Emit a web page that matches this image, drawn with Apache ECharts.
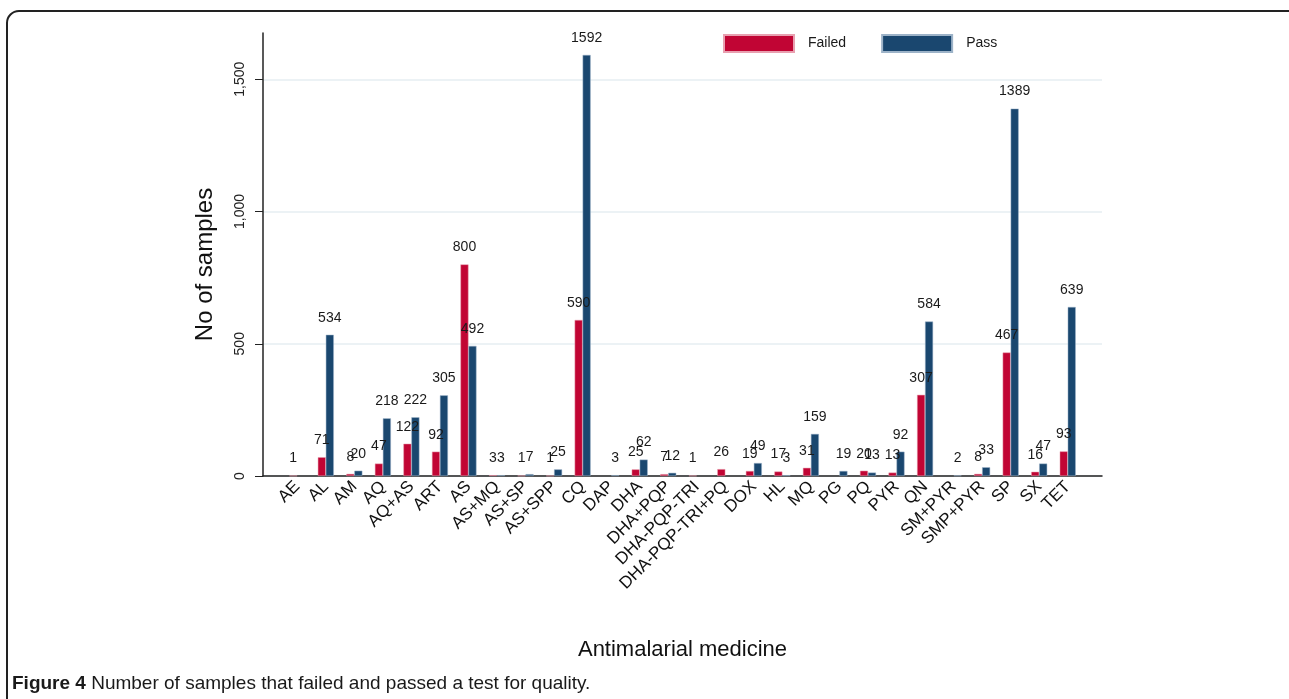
<!DOCTYPE html>
<html><head><meta charset="utf-8">
<script src="https://cdn.jsdelivr.net/npm/echarts@6/dist/echarts.min.js"></script>
<style>html,body{margin:0;padding:0;background:#fff;}#c{width:1289px;height:699px;}</style>
</head><body><div id="c"></div>
<script>
const categories = ['AE','AL','AM','AQ','AQ+AS','ART','AS','AS+MQ','AS+SP','AS+SPP','CQ','DAP','DHA','DHA+PQP','DHA-PQP-TRI','DHA-PQP-TRI+PQ','DOX','HL','MQ','PG','PQ','PYR','QN','SM+PYR','SMP+PYR','SP','SX','TET'];
const failed = [1,71,8,47,122,92,800,3,1,1,590,null,25,7,1,26,19,17,31,null,20,13,307,null,8,467,16,93];
const pass = [null,534,20,218,222,305,492,3,7,25,1592,3,62,12,null,null,49,3,159,19,13,92,584,2,33,1389,47,639];
const yTicks = [0,500,1000,1500];

const chart = echarts.init(document.getElementById('c'));
const font = 'Liberation Sans, Arial, sans-serif';
const lbl = {show:true, position:'top', distance:10, color:'#1a1a1a', fontSize:14, fontFamily:font};
chart.setOption({
  animation:false,
  textStyle:{fontFamily:font},
  legend:{left:718, top:29, itemWidth:70, itemHeight:17, itemGap:35, icon:'rect',
    textStyle:{fontSize:14, color:'#1a1a1a', padding:[0,0,0,9]}, data:['Failed','Pass']},
  grid:[
    {left:263, right:187, top:33, bottom:223},
    {left:283, right:207, top:33, bottom:223}
  ],
  xAxis:[
    {gridIndex:0, type:'value', min:0, max:1, axisLine:{show:true, onZero:false, lineStyle:{color:'#222', width:1.5}},
     axisTick:{show:false}, axisLabel:{show:false}, splitLine:{show:false},
     name:'Antimalarial medicine', nameLocation:'middle', nameGap:163,
     nameTextStyle:{fontSize:22, color:'#111', fontFamily:font}},
    {gridIndex:1, type:'category', data:categories, axisLine:{show:false}, axisTick:{show:false},
     axisLabel:{rotate:45, interval:0, fontSize:17, color:'#111', margin:8, fontFamily:font}}
  ],
  yAxis:[
    {gridIndex:0, type:'value', min:0, max:1675,
     axisLine:{show:true, lineStyle:{color:'#222', width:1.5}},
     axisTick:{show:true, length:8, customValues:yTicks, lineStyle:{color:'#222'}},
     axisLabel:{rotate:90, fontSize:14, color:'#222', margin:16, customValues:yTicks,
       formatter:v => (v % 500 === 0 ? v.toLocaleString('en-US') : '')},
     splitLine:{show:true, lineStyle:{color:['#e6eef2','#e6eef2','#e6eef2','#e6eef2','rgba(0,0,0,0)'], width:1.5}},
     name:'No of samples', nameLocation:'middle', nameGap:46,
     nameTextStyle:{fontSize:24, color:'#111', fontFamily:font, padding:[0,20,0,0]}},
    {gridIndex:1, type:'value', min:0, max:1675, show:false}
  ],
  series:[
    {name:'Failed', type:'bar', xAxisIndex:1, yAxisIndex:1, data:failed, barWidth:8, barGap:'0%',
     itemStyle:{color:'#c10534', borderColor:'#e8a0b0', borderWidth:0.5}, label:lbl},
    {name:'Pass', type:'bar', xAxisIndex:1, yAxisIndex:1, data:pass, barWidth:8, barGap:'0%',
     itemStyle:{color:'#1a476f', borderColor:'#9db3c8', borderWidth:0.5}, label:lbl}
  ],
  graphic:[
    {type:'rect', shape:{x:7, y:11, width:1300, height:720, r:12}, style:{fill:'none', stroke:'#222', lineWidth:2}, silent:true},
    {type:'text', left:12, top:674, style:{text:'{b|Figure 4} Number of samples that failed and passed a test for quality.',
      rich:{b:{fontWeight:'bold', fontSize:19, fontFamily:font, fill:'#1a1a1a'}},
      fontSize:19, fontFamily:font, fill:'#1a1a1a'}}
  ]
});
</script></body></html>
